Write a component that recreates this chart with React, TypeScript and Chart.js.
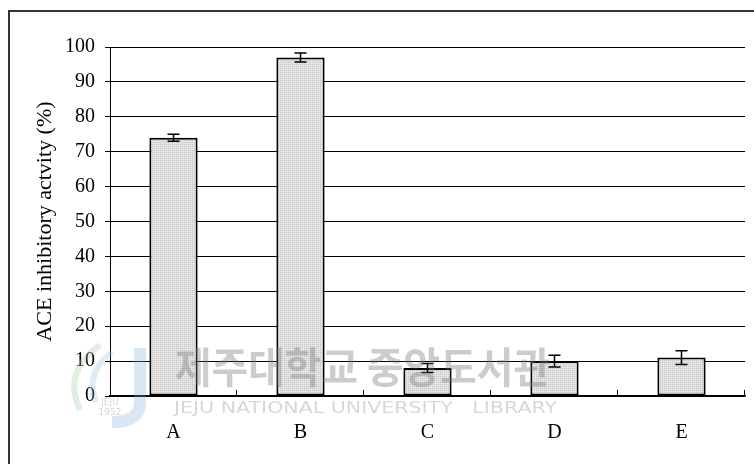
import React, { useEffect, useRef } from "react";
import { Chart, registerables } from "chart.js";

Chart.register(...registerables);

const categories = ["A", "B", "C", "D", "E"];
const activity = [74, 97, 8, 10, 11];
const errors = [1, 1.3, 1.3, 1.7, 2];
const yTicks = [0, 10, 20, 30, 40, 50, 60, 70, 80, 90, 100];
const yTitle = "ACE inhibitory actvity (%)";
const watermarkKo = "제주대학교 중앙도서관";
const watermarkEn = "JEJU NATIONAL UNIVERSITY   LIBRARY";

function makePattern(): CanvasPattern | string {
  const c = document.createElement("canvas");
  c.width = 2;
  c.height = 2;
  const g = c.getContext("2d");
  if (!g) return "#dcdcdc";
  g.fillStyle = "#e4e4e4";
  g.fillRect(0, 0, 2, 2);
  g.fillStyle = "#c4c4c4";
  g.fillRect(0, 0, 1, 1);
  const p = g.createPattern(c, "repeat");
  return p || "#dcdcdc";
}

const framePlugin = {
  id: "frame",
  beforeDraw(chart: any) {
    const ctx = chart.ctx;
    ctx.save();
    ctx.fillStyle = "#ffffff";
    ctx.fillRect(0, 0, chart.width, chart.height);
    ctx.strokeStyle = "#333333";
    ctx.lineWidth = 2;
    ctx.beginPath();
    ctx.moveTo(9, chart.height);
    ctx.lineTo(9, 11);
    ctx.lineTo(chart.width, 11);
    ctx.stroke();
    ctx.restore();
  },
};

const extrasPlugin = {
  id: "extras",
  afterDatasetsDraw(chart: any) {
    const ctx = chart.ctx;
    const xs = chart.scales.x;
    const ys = chart.scales.y;
    const area = chart.chartArea;
    ctx.save();
    // upward category tick marks
    ctx.strokeStyle = "#000";
    ctx.lineWidth = 1;
    const n = categories.length;
    const step = (area.right - area.left) / n;
    for (let i = 1; i <= n; i++) {
      const x = Math.round(area.left + step * i) - 0.5;
      ctx.beginPath();
      ctx.moveTo(x, area.bottom);
      ctx.lineTo(x, area.bottom - 6);
      ctx.stroke();
    }
    // error bars
    ctx.lineWidth = 1.5;
    activity.forEach((v, i) => {
      const x = xs.getPixelForValue(i);
      const yHi = ys.getPixelForValue(v + errors[i]);
      const yLo = ys.getPixelForValue(v - errors[i]);
      ctx.beginPath();
      ctx.moveTo(x, yHi);
      ctx.lineTo(x, yLo);
      ctx.moveTo(x - 6, yHi);
      ctx.lineTo(x + 6, yHi);
      ctx.moveTo(x - 6, yLo);
      ctx.lineTo(x + 6, yLo);
      ctx.stroke();
    });
    ctx.restore();
  },
  afterDraw(chart: any) {
    const ctx = chart.ctx;
    ctx.save();
    // faint logo
    ctx.globalAlpha = 0.3;
    ctx.strokeStyle = "#7fb0d8";
    ctx.lineWidth = 12;
    ctx.beginPath();
    ctx.moveTo(140, 348);
    ctx.lineTo(140, 405);
    ctx.quadraticCurveTo(138, 422, 112, 422);
    ctx.stroke();
    ctx.strokeStyle = "#9cc9a0";
    ctx.lineWidth = 6;
    ctx.beginPath();
    ctx.moveTo(100, 345);
    ctx.quadraticCurveTo(62, 372, 80, 410);
    ctx.stroke();
    ctx.strokeStyle = "#8fc3d6";
    ctx.beginPath();
    ctx.moveTo(112, 352);
    ctx.quadraticCurveTo(84, 374, 96, 402);
    ctx.stroke();
    ctx.globalAlpha = 0.35;
    ctx.fillStyle = "#888";
    ctx.font = "9px 'DejaVu Sans'";
    ctx.textAlign = "center";
    ctx.fillText("JEJU", 110, 405);
    ctx.fillText("1952", 110, 415);
    // watermark text
    ctx.globalAlpha = 0.38;
    ctx.fillStyle = "#7a7a7a";
    ctx.textAlign = "left";
    ctx.textBaseline = "alphabetic";
    ctx.font = "bold 40px 'Noto Sans CJK KR'";
    let w = ctx.measureText(watermarkKo).width;
    ctx.save();
    ctx.translate(175, 383);
    ctx.scale(375 / w, 1.05);
    ctx.fillText(watermarkKo, 0, 0);
    ctx.restore();
    ctx.globalAlpha = 0.3;
    ctx.font = "16px 'DejaVu Sans'";
    w = ctx.measureText(watermarkEn).width;
    ctx.save();
    ctx.translate(174, 413);
    ctx.scale(383 / w, 1);
    ctx.fillText(watermarkEn, 0, 0);
    ctx.restore();
    ctx.restore();
  },
};

export default function App() {
  const ref = useRef<HTMLCanvasElement | null>(null);
  useEffect(() => {
    if (!ref.current) return;
    const pattern = makePattern();
    const chart = new Chart(ref.current, {
      type: "bar",
      data: {
        labels: categories,
        datasets: [
          {
            data: activity,
            backgroundColor: pattern as any,
            borderColor: "#000",
            borderWidth: 2,
            borderSkipped: false,
            barPercentage: 0.38,
            categoryPercentage: 1,
          },
        ],
      },
      options: {
        responsive: false,
        animation: false,
        devicePixelRatio: 1,
        layout: { padding: { left: 0, right: 9, top: 47, bottom: 0 } },
        plugins: { legend: { display: false }, tooltip: { enabled: false } },
        scales: {
          x: {
            grid: { display: false, drawTicks: false },
            border: { display: true, color: "#000", width: 1.5 },
            ticks: {
              color: "#000",
              padding: 25,
              font: { family: "'Liberation Serif'", size: 20 },
            },
            afterFit(scale: any) {
              scale.height = 68;
            },
          },
          y: {
            min: 0,
            max: 100,
            afterBuildTicks(scale: any) {
              scale.ticks = yTicks.map((v) => ({ value: v }));
            },
            grid: { color: "#000", lineWidth: 1, tickLength: 5, drawTicks: true },
            border: { display: true, color: "#000", width: 1 },
            ticks: {
              color: "#000",
              padding: 10,
              font: { family: "'Liberation Serif'", size: 20 },
            },
            title: {
              display: true,
              text: yTitle,
              color: "#000",
              padding: { top: 32, bottom: 0 },
              font: { family: "'Liberation Serif'", size: 22 },
            },
            afterFit(scale: any) {
              scale.width = 110;
            },
          },
        },
      },
      plugins: [framePlugin, extrasPlugin],
    });
    return () => chart.destroy();
  }, []);
  return (
    <div style={{ position: "fixed", left: 0, top: 0, width: 754, height: 464, background: "#fff" }}>
      <canvas ref={ref} width={754} height={464} style={{ display: "block" }} />
    </div>
  );
}
